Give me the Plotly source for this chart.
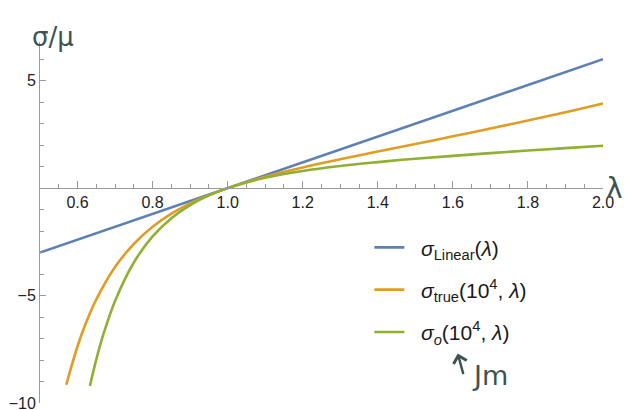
import plotly.graph_objects as go

# Values
lam_linear = [0.5, 2.0]
sig_linear = [-3.0, 6.0]

lam_true = [0.57, 0.60, 0.62, 0.65, 0.70, 0.75, 0.80, 0.85, 0.90, 0.95, 1.00,
            1.10, 1.20, 1.30, 1.40, 1.50, 1.60, 1.70, 1.80, 1.90, 2.00]
sig_true = [-9.15, -7.36, -6.38, -5.18, -3.67, -2.60, -1.80, -1.19, -0.71, -0.33, 0.0,
            0.53, 0.96, 1.34, 1.70, 2.05, 2.41, 2.77, 3.15, 3.53, 3.94]

lam_o = [0.633, 0.65, 0.67, 0.70, 0.75, 0.80, 0.85, 0.90, 0.95, 1.00,
         1.10, 1.20, 1.30, 1.40, 1.50, 1.60, 1.70, 1.80, 1.90, 2.00]
sig_o = [-9.21, -7.97, -6.74, -5.25, -3.46, -2.25, -1.40, -0.79, -0.34, 0.0,
         0.48, 0.80, 1.03, 1.21, 1.37, 1.50, 1.63, 1.75, 1.86, 1.97]

x_ticks = [0.6, 0.8, 1.0, 1.2, 1.4, 1.6, 1.8, 2.0]
x_tick_text = ["0.6", "0.8", "1.0", "1.2", "1.4", "1.6", "1.8", "2.0"]
y_ticks = [-10, -5, 5]
y_tick_text = ["\u221210", "\u22125", "5"]

names = ["&nbsp;&nbsp;<i>σ</i><sub>Linear</sub>(<i>λ</i>)",
         "&nbsp;&nbsp;<i>σ</i><sub>true</sub>(10<sup>4</sup>, <i>λ</i>)",
         "&nbsp;&nbsp;<i>σ</i><sub><i>o</i></sub>(10<sup>4</sup>, <i>λ</i>)"]
colors = ["#5E81B5", "#E19C24", "#8FB032"]

Y_MIN, Y_MAX = -10.0, 6.8

fig = go.Figure()
for i, (xs, ys) in enumerate([(lam_linear, sig_linear), (lam_true, sig_true), (lam_o, sig_o)]):
    fig.add_trace(go.Scatter(
        x=xs, y=ys, mode="lines", name=names[i],
        line=dict(color=colors[i], width=2.6, shape="spline", smoothing=1.0),
        legendgroup=str(i),
    ))

axis_col = "#9a9a9a"
# The page body has an 8px margin, so the figure is drawn 8px in from the top-left.
fig.update_layout(
    width=628, height=402,
    margin=dict(l=32, r=33, t=34, b=7, autoexpand=False),
    paper_bgcolor="white", plot_bgcolor="white",
    font=dict(family="Liberation Sans, Arial, sans-serif", size=16, color="#222222"),
    showlegend=True,
    legend=dict(x=0.585, y=0.487, xanchor="left", yanchor="top",
                font=dict(family="Liberation Sans, Arial, sans-serif", size=21, color="#1a1a1a"),
                bgcolor="rgba(0,0,0,0)", tracegroupgap=12, traceorder="grouped"),
    xaxis=dict(
        range=[0.5, 2.0], anchor="free", automargin=False,
        position=(0 - Y_MIN) / (Y_MAX - Y_MIN),
        showgrid=False, zeroline=False, showline=True, linecolor=axis_col, linewidth=1,
        tickmode="array", tickvals=x_ticks, ticktext=x_tick_text,
        ticks="inside", ticklen=7, tickcolor=axis_col, tickwidth=1,
        minor=dict(dtick=0.05, tick0=0.5, ticks="inside", ticklen=4, tickcolor=axis_col, tickwidth=1),
        tickfont=dict(size=16, color="#222222"), ticklabeloverflow="allow",
    ),
    yaxis=dict(
        range=[Y_MIN, Y_MAX], automargin=False,
        showgrid=False, zeroline=False, showline=True, linecolor=axis_col, linewidth=1,
        tickmode="array", tickvals=y_ticks, ticktext=y_tick_text,
        ticks="inside", ticklen=6, tickcolor=axis_col, tickwidth=1,
        minor=dict(dtick=1, tick0=0, ticks="inside", ticklen=4, tickcolor=axis_col, tickwidth=1),
        tickfont=dict(size=16, color="#222222"), ticklabeloverflow="allow",
    ),
)

hand = "#3d5252"
fig.add_annotation(x=-0.018, y=1.014, xref="paper", yref="paper", xanchor="left", yanchor="middle",
                   text="σ/μ", showarrow=False,
                   font=dict(family="DejaVu Sans", size=26, color=hand))
fig.add_annotation(x=2.0, y=0, xref="x", yref="y", xanchor="left", yanchor="middle",
                   xshift=1, text="λ", showarrow=False,
                   font=dict(family="DejaVu Sans", size=28, color=hand))
fig.add_annotation(x=1.613, y=-7.7, xref="x", yref="y", ax=6, ay=22,
                   text="", showarrow=True, arrowhead=4, arrowwidth=2.4, arrowcolor=hand, arrowsize=1.1)
fig.add_annotation(x=1.645, y=-8.7, xref="x", yref="y", xanchor="left", yanchor="middle",
                   text="Jm", showarrow=False,
                   font=dict(family="DejaVu Sans", size=27, color=hand))

fig.write_html("out.html")
